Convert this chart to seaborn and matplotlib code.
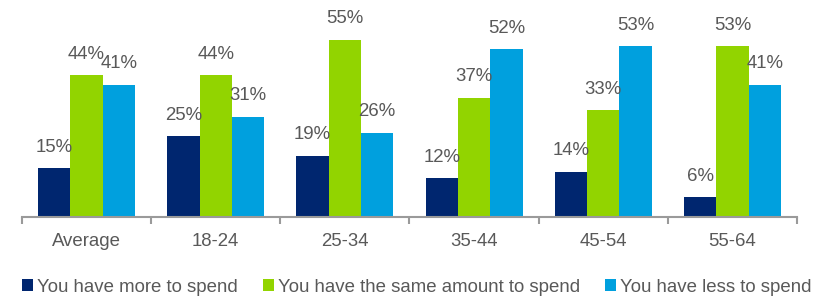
import matplotlib
matplotlib.use("Agg")
import matplotlib.pyplot as plt
import seaborn as sns
import pandas as pd
from matplotlib.patches import Patch

categories = ["Average", "18-24", "25-34", "35-44", "45-54", "55-64"]
series = ["You have more to spend", "You have the same amount to spend", "You have less to spend"]
more = [15, 25, 19, 12, 14, 6]
same = [44, 44, 55, 37, 33, 53]
less = [41, 31, 26, 52, 53, 41]
colors = ["#00266F", "#92D400", "#00A0DE"]

rows = []
for s, vals in zip(series, [more, same, less]):
    for c, v in zip(categories, vals):
        rows.append({"category": c, "series": s, "value": v})
df = pd.DataFrame(rows)

sns.set_style("white")
plt.rcParams["font.family"] = ["Liberation Sans", "DejaVu Sans"]
text_color = "#595959"
fs = 13.4

fig = plt.figure(figsize=(8.28, 2.97), dpi=100)
ax = fig.add_axes([22 / 828, 1 - 216.7 / 297, (797 - 22) / 828, 216.7 / 297])

sns.barplot(data=df, x="category", y="value", hue="series", order=categories,
            hue_order=series, palette=colors, saturation=1, width=0.75, gap=0,
            linewidth=0, errorbar=None, ax=ax, legend=False)

for cont in ax.containers:
    ax.bar_label(cont, labels=[f"{int(v)}%" for v in cont.datavalues],
                 padding=9, fontsize=fs, color=text_color)

ax.set_ylim(0, 216.7 / 3.22)
ax.set_xlim(-0.5, len(categories) - 0.5)
ax.set_xlabel("")
ax.set_ylabel("")
ax.set_yticks([])
for sp in ["left", "right", "top"]:
    ax.spines[sp].set_visible(False)
ax.spines["bottom"].set_color("#9a9a9a")
ax.spines["bottom"].set_linewidth(1.5)
ax.tick_params(axis="x", which="major", bottom=False, length=0, pad=12,
               labelsize=fs, labelcolor=text_color)
ax.set_xticks([i - 0.5 for i in range(len(categories) + 1)], minor=True)
ax.tick_params(axis="x", which="minor", bottom=True, direction="out", length=5,
               width=1.5, color="#9a9a9a")

handles = [Patch(facecolor=c, edgecolor="none") for c in colors]
fig.legend(handles, series, loc="center left", bbox_to_anchor=(22 / 828, 1 - 287 / 297),
           ncol=3, frameon=False, fontsize=fs, labelcolor=text_color,
           handlelength=0.6, handleheight=0.6, handletextpad=0.2,
           columnspacing=1.35, borderpad=0, borderaxespad=0)

fig.savefig("out.png", dpi=100)
